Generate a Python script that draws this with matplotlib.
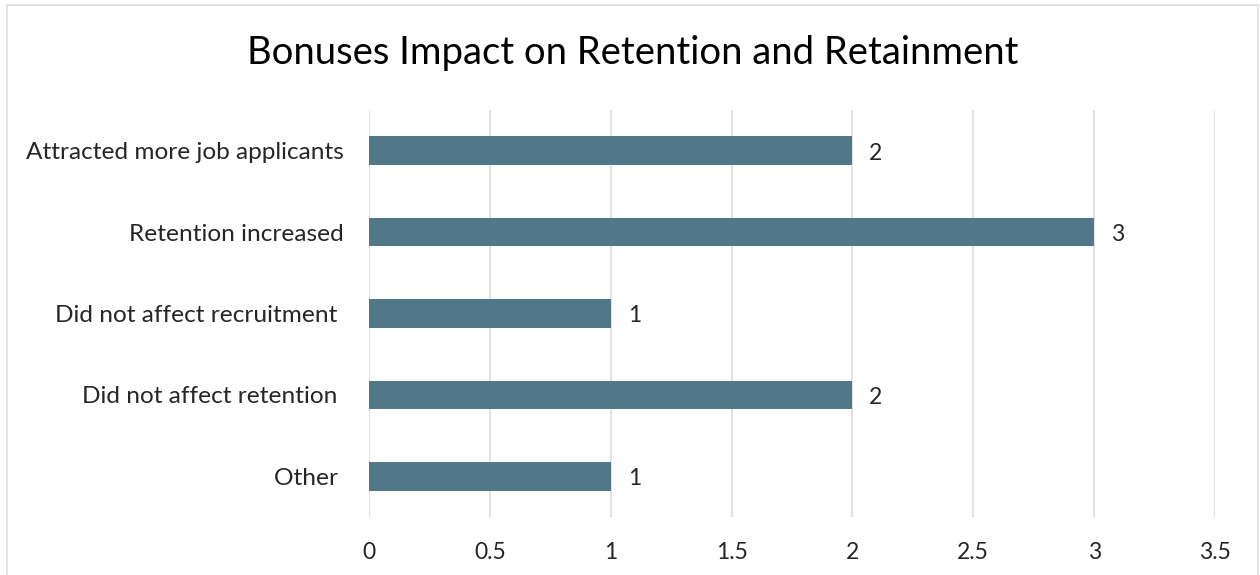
import matplotlib
matplotlib.use("Agg")
import matplotlib.pyplot as plt
from matplotlib.patches import Rectangle

categories = ["Attracted more job applicants", "Retention increased",
              "Did not affect recruitment ", "Did not affect retention ", "Other "]
values = [2, 3, 1, 2, 1]
xticks = [0, 0.5, 1, 1.5, 2, 2.5, 3, 3.5]
xtick_labels = ["0", "0.5", "1", "1.5", "2", "2.5", "3", "3.5"]

plt.rcParams['font.family'] = ['Lato', 'DejaVu Sans']

fig = plt.figure(figsize=(12.6, 5.75), dpi=100)
ax = fig.add_axes([369 / 1260, 1 - 517 / 575, (1215 - 369) / 1260, (517 - 110) / 575])

ypos = list(range(len(categories)))
ax.barh(ypos, values, height=0.35, color="#507888", zorder=3)
for y, v in zip(ypos, values):
    ax.text(v + 0.07, y + 0.03, str(v), va="center", ha="left", fontsize=16.5, color="#262626")

ax.set_ylim(len(categories) - 0.5, -0.5)
ax.set_xlim(0, 3.5)
ax.set_yticks(ypos)
ax.set_yticklabels(categories, fontsize=17.6, color="#262626")
ax.set_xticks(xticks)
ax.set_xticklabels(xtick_labels, fontsize=16.5, color="#262626")
ax.tick_params(axis="y", length=0, pad=18)
ax.tick_params(axis="x", length=0, pad=18)
ax.grid(axis="x", color="#e3e3e3", linewidth=1.5, zorder=0)
for s in ax.spines.values():
    s.set_visible(False)

fig.text(633 / 1260, 1 - 53 / 575, "Bonuses Impact on Retention and Retainment",
         ha="center", va="center", fontsize=27.5, color="black")

fig.patches.append(Rectangle((7 / 1260, -0.01), (1258 - 7) / 1260, 1 - 5 / 575 + 0.01,
                             transform=fig.transFigure, fill=False,
                             edgecolor="#dedede", linewidth=1.2))

fig.savefig("out.png", dpi=100)
